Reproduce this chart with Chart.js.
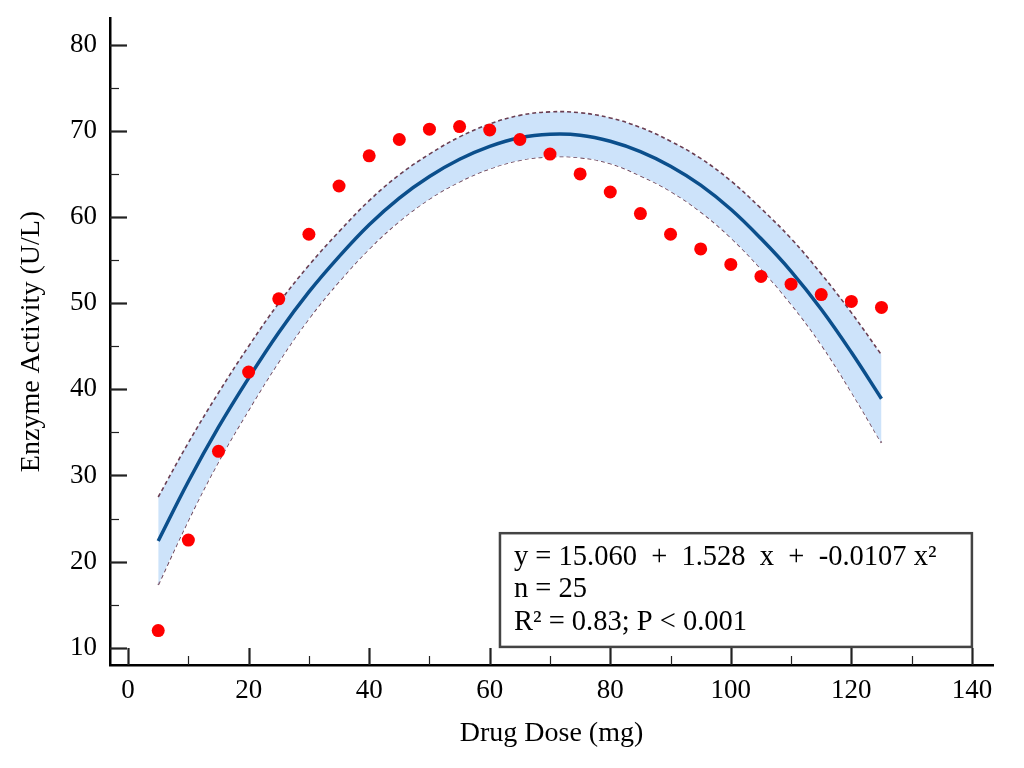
<!DOCTYPE html>
<html>
<head>
<meta charset="utf-8">
<script src="https://cdn.jsdelivr.net/npm/chart.js@4.4.0/dist/chart.umd.min.js"></script>
<style>
html, body { margin: 0; padding: 0; background: #fff; }
#wrap { width: 1024px; height: 768px; }
</style>
</head>
<body>
<div id="wrap"><canvas id="myChart" width="1024" height="768"></canvas></div>
<script>
// measured data points
const doses = [5, 10, 15, 20, 25, 30, 35, 40, 45, 50, 55, 60, 65, 70, 75, 80, 85, 90, 95, 100, 105, 110, 115, 120, 125];
const activity = [12.0, 22.5, 32.8, 42.0, 50.5, 58.0, 63.6, 67.1, 69.0, 70.2, 70.5, 70.1, 69.0, 67.3, 65.0, 62.9, 60.4, 58.0, 56.3, 54.5, 53.1, 52.2, 51.0, 50.2, 49.5];

// fitted curve and its band
const fitX = [5, 10, 15, 20, 25, 30, 35, 40, 45, 50, 55, 60, 65, 70, 75, 80, 85, 90, 95, 100, 105, 110, 115, 120, 125];
const fitY = [22.4, 29.3, 35.6, 41.3, 46.6, 51.3, 55.4, 59.1, 62.2, 64.7, 66.7, 68.2, 69.2, 69.6, 69.5, 68.8, 67.6, 65.9, 63.7, 60.9, 57.5, 53.7, 49.3, 44.3, 38.9];
const bandUpper = [27.5, 33.8, 39.6, 45.0, 50.0, 54.4, 58.3, 61.9, 64.9, 67.3, 69.3, 70.8, 71.8, 72.2, 72.1, 71.5, 70.4, 68.8, 66.8, 64.2, 61.0, 57.5, 53.4, 48.9, 44.0];
const bandLower = [17.3, 24.8, 31.6, 37.6, 43.2, 48.2, 52.5, 56.3, 59.5, 62.1, 64.1, 65.6, 66.6, 67.0, 66.9, 66.2, 64.8, 63.0, 60.6, 57.6, 54.0, 49.9, 45.2, 39.7, 33.8];

const xTicks = [0, 20, 40, 60, 80, 100, 120, 140];
const yTicks = [10, 20, 30, 40, 50, 60, 70, 80];

const statLines = ['y = 15.060  +  1.528  x  +  -0.0107 x\u00b2', 'n = 25', 'R\u00b2 = 0.83; P < 0.001'];

const serif = "'Liberation Serif', 'Times New Roman', serif";

function pairs(xs, ys) {
	return xs.map((v, i) => ({ x: v, y: ys[i] }));
}

// short ticks pointing into the plot, plus minor ticks half way
const inwardTicks = {
	id: 'inwardTicks',
	afterDraw(chart) {
		const { ctx, chartArea } = chart;
		const x = chart.scales.x, y = chart.scales.y;
		ctx.save();
		ctx.strokeStyle = '#222';
		function tick(px, py, len, horiz, w) {
			ctx.lineWidth = w;
			ctx.beginPath();
			ctx.moveTo(px, py);
			if (horiz) ctx.lineTo(px + len, py); else ctx.lineTo(px, py - len);
			ctx.stroke();
		}
		for (let i = 0; i < yTicks.length; i++) {
			tick(chartArea.left, Math.round(y.getPixelForValue(yTicks[i])) + 0.5, 17, true, 2.2);
			if (i < yTicks.length - 1) {
				tick(chartArea.left, Math.round(y.getPixelForValue((yTicks[i] + yTicks[i + 1]) / 2)) + 0.5, 9, true, 1.2);
			}
		}
		for (let i = 0; i < xTicks.length; i++) {
			tick(Math.round(x.getPixelForValue(xTicks[i])) + 0.5, chartArea.bottom, 17, false, 2.2);
			if (i < xTicks.length - 1) {
				tick(Math.round(x.getPixelForValue((xTicks[i] + xTicks[i + 1]) / 2)) + 0.5, chartArea.bottom, 9, false, 1.2);
			}
		}
		ctx.restore();
	}
};

// box with the regression statistics
const statBox = {
	id: 'statBox',
	afterDraw(chart) {
		const { ctx } = chart;
		const x = chart.scales.x, y = chart.scales.y;
		const left = x.getPixelForValue(61.7);
		const right = x.getPixelForValue(140);
		const top = y.getPixelForValue(23.3);
		const bottom = y.getPixelForValue(10.1);
		ctx.save();
		ctx.fillStyle = '#fff';
		ctx.fillRect(left, top, right - left, bottom - top);
		ctx.strokeStyle = '#444';
		ctx.lineWidth = 2.5;
		ctx.strokeRect(left, top, right - left, bottom - top);
		ctx.fillStyle = '#000';
		ctx.font = '28.5px ' + serif;
		ctx.textBaseline = 'middle';
		ctx.textAlign = 'left';
		for (let i = 0; i < statLines.length; i++) {
			ctx.fillText(statLines[i], left + 14, top + 24 + i * 32.5);
		}
		ctx.restore();
	}
};

const config = {
	type: 'line',
	data: {
		datasets: [{
			label: 'Observed',
			data: pairs(doses, activity),
			showLine: false,
			pointRadius: 6.5,
			pointBackgroundColor: '#ff0000',
			pointBorderWidth: 0,
			order: 0
		}, {
			label: 'Fit',
			data: pairs(fitX, fitY),
			borderColor: '#0b4f8c',
			borderWidth: 3.5,
			pointRadius: 0,
			tension: 0.4,
			fill: false,
			order: 1
		}, {
			label: 'Upper',
			data: pairs(fitX, bandUpper),
			borderColor: '#6a3e52',
			borderWidth: 1.6,
			borderDash: [4, 3],
			pointRadius: 0,
			tension: 0.4,
			fill: '+1',
			backgroundColor: '#cde3fa',
			order: 2
		}, {
			label: 'Lower',
			data: pairs(fitX, bandLower),
			borderColor: '#6a3e52',
			borderWidth: 1.6,
			borderDash: [4, 3],
			pointRadius: 0,
			tension: 0.4,
			fill: false,
			order: 3
		}]
	},
	options: {
		responsive: false,
		animation: false,
		layout: { padding: { top: 18, right: 31, bottom: 0, left: 0 } },
		plugins: {
			legend: { display: false },
			tooltip: { enabled: false }
		},
		scales: {
			x: {
				type: 'linear',
				min: -3,
				max: 143.5,
				afterBuildTicks: s => { s.ticks = xTicks.map(v => ({ value: v })); },
				afterFit: s => { s.height = 103; s.paddingLeft = 0; s.paddingRight = 0; },
				grid: { display: false, drawTicks: false },
				border: { display: true, color: '#000', width: 2.5 },
				ticks: { color: '#000', font: { family: serif, size: 27 }, padding: 10, maxRotation: 0 },
				title: { display: true, text: 'Drug Dose (mg)', color: '#000', font: { family: serif, size: 28 }, padding: { top: 0, bottom: 18 } }
			},
			y: {
				type: 'linear',
				min: 8,
				max: 83.1,
				afterBuildTicks: s => { s.ticks = yTicks.map(v => ({ value: v })); },
				afterFit: s => { s.width = 110; s.paddingTop = 0; s.paddingBottom = 0; },
				grid: { display: false, drawTicks: false },
				border: { display: true, color: '#000', width: 2.5 },
				ticks: { color: '#000', font: { family: serif, size: 27 }, padding: 13 },
				title: { display: true, text: 'Enzyme Activity (U/L)', color: '#000', font: { family: serif, size: 28 }, padding: { top: 15, bottom: 0 } }
			}
		}
	},
	plugins: [inwardTicks, statBox]
};

const myChart = new Chart(document.getElementById('myChart'), config);
</script>
</body>
</html>
